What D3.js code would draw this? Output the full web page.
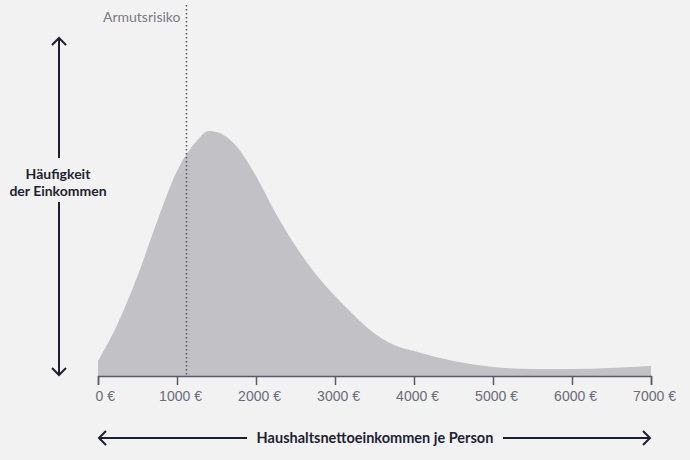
<!DOCTYPE html>
<html>
<head>
<meta charset="utf-8">
<script src="https://cdn.jsdelivr.net/npm/d3@7"></script>
<style>
  html, body { margin: 0; padding: 0; background: #f2f2f2; }
  svg { display: block; font-family: Lato, "Open Sans", sans-serif; }
</style>
</head>
<body>
<svg id="chart" width="690" height="460"></svg>
<script>
// income in euro, relative frequency
var incomes = [0, 250, 500, 750, 1000, 1250, 1400, 1500, 1750, 2000, 2250, 2500, 2750, 3000, 3250, 3500, 3750, 4000, 4500, 5000, 5500, 6000, 6500, 7000];
var frequency = [6, 21, 40, 62, 82, 94, 98, 97.6, 92, 80, 65, 52, 41, 32, 24, 17, 12.4, 10, 6, 3.6, 2.8, 2.8, 3.2, 4];
var tickValues = [0, 1000, 2000, 3000, 4000, 5000, 6000, 7000];
var povertyLine = 1120;

var svg = d3.select("#chart");

var x = d3.scaleLinear().domain([0, 7000]).range([98, 651]);
var y = d3.scaleLinear().domain([0, 100]).range([376, 126]);

var data = incomes.map(function (d, i) { return { inc: d, f: frequency[i] }; });

var area = d3.area()
    .x(function (d) { return x(d.inc); })
    .y0(y(0))
    .y1(function (d) { return y(d.f); })
    .curve(d3.curveMonotoneX);

svg.append("path")
    .datum(data)
    .attr("d", area)
    .attr("fill", "#c1c1c6");

// x axis
var xAxis = svg.append("g")
    .attr("transform", "translate(0," + y(0) + ")")
    .call(d3.axisBottom(x)
        .tickValues(tickValues)
        .tickSize(9)
        .tickPadding(6)
        .tickFormat(function (d) { return d + " €"; }));

xAxis.select(".domain").attr("stroke", "#5a5a66").attr("stroke-width", 1.5);
xAxis.selectAll(".tick line").attr("stroke", "#5a5a66").attr("stroke-width", 1.5);
xAxis.selectAll(".tick text")
    .attr("fill", "#6b6b78")
    .attr("font-size", "14px")
    .attr("dx", 3);
xAxis.selectAll(".tick text").filter(function (d) { return d === 0; })
    .attr("text-anchor", "start").attr("dx", -3);

// poverty line
svg.append("line")
    .attr("x1", x(povertyLine)).attr("x2", x(povertyLine))
    .attr("y1", 5).attr("y2", y(0))
    .attr("stroke", "#55555f")
    .attr("stroke-width", 1.5)
    .attr("stroke-dasharray", "1.5,2.5");

svg.append("text")
    .attr("x", x(povertyLine) - 6)
    .attr("y", 22)
    .attr("text-anchor", "end")
    .attr("fill", "#7a7a86")
    .attr("font-size", "14px")
    .text("Armutsrisiko");

// arrows
var ink = "#1f1f33";

var arrow = function (x1, y1, x2, y2) {
    svg.append("line")
        .attr("x1", x1).attr("y1", y1).attr("x2", x2).attr("y2", y2)
        .attr("stroke", ink).attr("stroke-width", 2);
};
var head = function (px, py, dir) {
    var s = 7, d;
    if (dir === "up") d = [[px - s, py + s], [px, py], [px + s, py + s]];
    if (dir === "down") d = [[px - s, py - s], [px, py], [px + s, py - s]];
    if (dir === "left") d = [[px + s, py - s], [px, py], [px + s, py + s]];
    if (dir === "right") d = [[px - s, py - s], [px, py], [px - s, py + s]];
    svg.append("path")
        .attr("d", d3.line()(d))
        .attr("fill", "none").attr("stroke", ink).attr("stroke-width", 2);
};

// y arrow
arrow(59, 38, 59, 158);
arrow(59, 202, 59, 375);
head(59, 38, "up");
head(59, 375, "down");

svg.append("text")
    .attr("x", 58).attr("y", 179)
    .attr("text-anchor", "middle")
    .attr("font-weight", "bold").attr("font-size", "14px")
    .attr("fill", ink)
    .text("Häufigkeit");
svg.append("text")
    .attr("x", 58).attr("y", 196)
    .attr("text-anchor", "middle")
    .attr("font-weight", "bold").attr("font-size", "14px")
    .attr("fill", ink)
    .text("der Einkommen");

// x arrow
arrow(99, 438, 247, 438);
arrow(503, 438, 650, 438);
head(99, 438, "left");
head(650, 438, "right");

svg.append("text")
    .attr("x", 375).attr("y", 443)
    .attr("text-anchor", "middle")
    .attr("font-weight", "bold").attr("font-size", "14.5px")
    .attr("fill", ink)
    .text("Haushaltsnettoeinkommen je Person");
</script>
</body>
</html>
